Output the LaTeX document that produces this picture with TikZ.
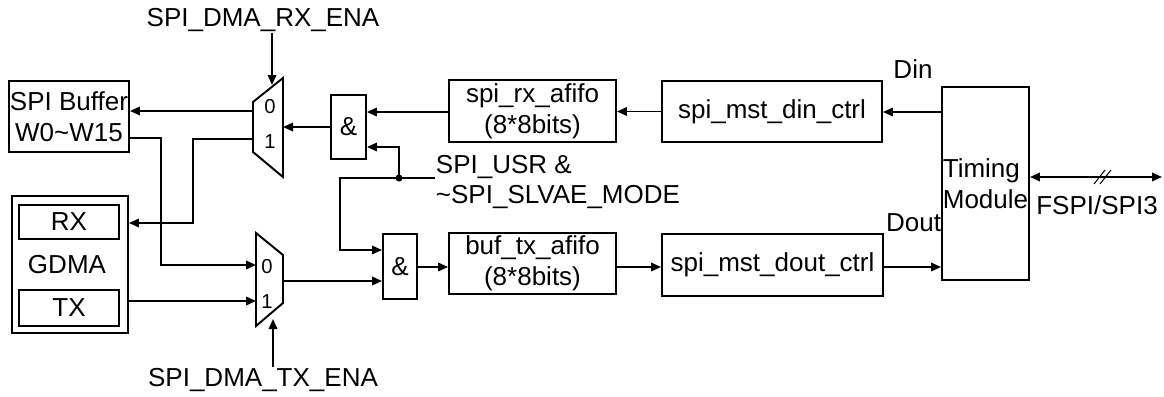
\documentclass[tikz,border=0pt]{standalone}
\usepackage{fontspec}
\setmainfont{Liberation Sans}
\usetikzlibrary{arrows.meta}
\begin{document}
\begin{tikzpicture}[x=0.02cm,y=-0.02cm,
  line width=1.1pt,
  every node/.style={font=\fontsize{14.8pt}{17.5pt}\selectfont},
  blk/.style={draw,inner sep=0pt,align=center},
  lbl/.style={inner sep=0pt,align=left},
  muxlbl/.style={inner sep=0pt,font=\fontsize{11.5pt}{13pt}\selectfont},
  arr/.style={-{Triangle[length=0.2cm,width=0.17cm]}},
  darr/.style={{Triangle[length=0.2cm,width=0.17cm]}-{Triangle[length=0.2cm,width=0.17cm]}},
  dot/.style={circle,fill,inner sep=0pt,minimum size=0.14cm}]
\useasboundingbox (0,0) rectangle (1164,396);

% blocks
\node[blk,minimum width=2.4cm,minimum height=1.42cm] (buf) at (69,116.5) {SPI Buffer\\ W0\textasciitilde W15};
\node[blk,minimum width=2.32cm,minimum height=2.74cm] (gdma) at (70,264.5) {};
\node[blk,minimum width=2.0cm,minimum height=0.68cm] (rx) at (69,222) {RX};
\node[blk,minimum width=2.0cm,minimum height=0.72cm] (tx) at (69,308) {TX};
\node[lbl] (gl) at (67,265) {GDMA};
\node[blk,minimum width=0.7cm,minimum height=1.28cm] (and1) at (348.5,127) {\&};
\node[blk,minimum width=0.68cm,minimum height=1.3cm] (and2) at (400,266.5) {\&};
\node[blk,minimum width=3.34cm,minimum height=1.24cm] (rxf) at (532.5,111) {spi\_rx\_afifo\\(8*8bits)};
\node[blk,minimum width=3.34cm,minimum height=1.22cm] (txf) at (532.5,263.5) {buf\_tx\_afifo\\(8*8bits)};
\node[blk,minimum width=4.4cm,minimum height=1.22cm] (din) at (772,111.5) {spi\_mst\_din\_ctrl};
\node[blk,minimum width=4.42cm,minimum height=1.24cm] (dout) at (772.5,265) {spi\_mst\_dout\_ctrl};
\node[blk,align=left,minimum width=1.74cm,minimum height=3.86cm] (tim) at (985.5,183.5) {Timing\\Module};

% muxes
\draw (253,102) coordinate (m1a) -- (283,78) coordinate (m1b) -- (283,177) coordinate (m1c) -- (253,152) coordinate (m1d) -- cycle;
\node[muxlbl] (m1z) at (270,107) {0};
\node[muxlbl] (m1o) at (270,142) {1};
\draw (256,233) coordinate (m2a) -- (283,255) coordinate (m2b) -- (283,303) coordinate (m2c) -- (256,326) coordinate (m2d) -- cycle;
\node[muxlbl] (m2z) at (267,267) {0};
\node[muxlbl] (m2o) at (267,302) {1};

% labels
\node[lbl] (rxena) at (263,20) {SPI\_DMA\_RX\_ENA};
\node[lbl] (txena) at (263,380) {SPI\_DMA\_TX\_ENA};
\node[lbl,anchor=west] (usr) at (435,182) {SPI\_USR \&\\\textasciitilde SPI\_SLVAE\_MODE};
\node[lbl] (dinl) at (913,69) {Din};
\node[lbl,anchor=east] (doutl) at (942,223) {Dout};
\node[lbl] (fspi) at (1097,205) {FSPI/SPI3};

% port coordinates
\coordinate (m1ctl) at (272,85);
\coordinate (m1o0) at (253,111);
\coordinate (m1o1) at (253,139);
\coordinate (m1in) at (283,127);
\coordinate (m2ctl) at (273,319);
\coordinate (m2i0) at (256,265);
\coordinate (m2i1) at (256,301);
\coordinate (m2out) at (283,281);
\coordinate (j) at (399,178);
\coordinate (fend) at (1162,177);

% connectors
\draw[arr] (rxena.south -| m1ctl) -- (m1ctl);
\draw[arr] (txena.north -| m2ctl) -- (m2ctl);
\draw[arr] (m1o0) -- (m1o0 -| buf.east);
\draw[arr] (m1o1) -- (193,139) -- (193,223) -- (gdma.east |- 0,223);
\draw[arr] (buf.east |- 0,138) -- (161,138) -- (161,265) -- (m2i0);
\draw[arr] (gdma.east |- m2i1) -- (m2i1);
\draw[arr] (and1.west) -- (m1in);
\draw[arr] (rxf.west |- 0,112) -- (and1.east |- 0,112);
\draw[arr] (din.west) -- (rxf.east |- din.west);
\draw[arr] (tim.west |- 0,112) -- (din.east |- 0,112);
\draw[arr] (m2out) -- (and2.west |- m2out);
\draw[arr] (usr.west |- j) -- (340,178) -- (340,250) -- (and2.west |- 0,250);
\draw[arr] (j) -- (399,147) -- (and1.east |- 0,147);
\node[dot] (jd) at (j) {};
\draw[arr] (and2.east |- 0,267) -- (txf.west |- 0,267);
\draw[arr] (txf.east |- 0,267) -- (dout.west |- 0,267);
\draw[arr] (dout.east |- 0,267) -- (tim.west |- 0,267);
\draw[darr] (tim.east |- fend) -- (fend);
\draw[line width=0.6pt] (1094,184) -- (1105,170) (1100,184) -- (1111,170);
\end{tikzpicture}
\end{document}
